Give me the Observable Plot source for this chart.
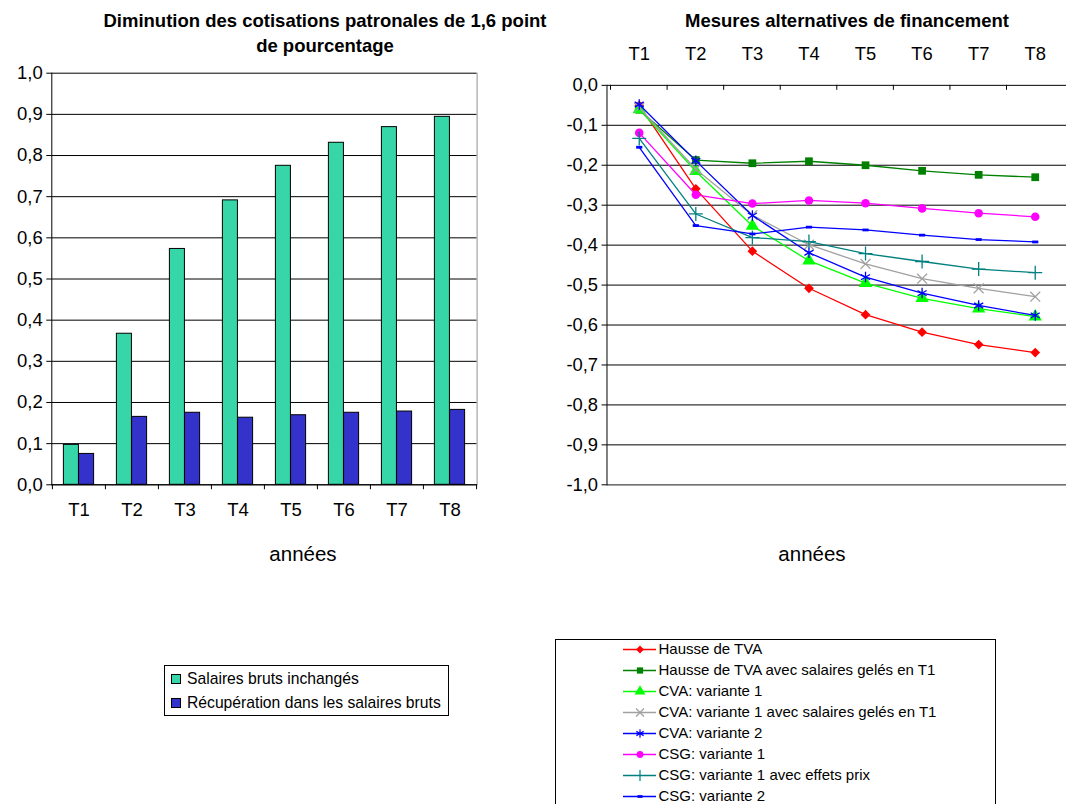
<!DOCTYPE html>
<html><head><meta charset="utf-8">
<script src="https://cdn.jsdelivr.net/npm/d3@7"></script>
<script src="https://cdn.jsdelivr.net/npm/@observablehq/plot@0.6"></script>
<style>
html,body{margin:0;padding:0;background:#fff;}
body{width:1066px;height:804px;overflow:hidden;position:relative;font-family:"Liberation Sans",Arial,sans-serif;color:#000;}
.abs{position:absolute;}
.title{font-weight:bold;font-size:18.5px;line-height:25px;text-align:center;white-space:nowrap;}
.axlab{font-size:20.5px;}
.lg{font-size:15.7px;}
.sw{display:inline-block;width:8px;height:8px;border:1px solid #000;vertical-align:middle;margin-right:6px;position:relative;top:-1px;}
</style></head><body>
<script>
// ---------- data ----------
const periods = ["T1","T2","T3","T4","T5","T6","T7","T8"];
const barSeries = ["Salaires bruts inchangés","Récupération dans les salaires bruts"];
const salairesInchanges = [0.097,0.367,0.573,0.691,0.775,0.831,0.869,0.894];
const recuperation = [0.075,0.165,0.175,0.163,0.169,0.175,0.178,0.182];

const lineSeries = [
  "Hausse de TVA",
  "Hausse de TVA avec salaires gelés en T1",
  "CVA: variante 1",
  "CVA: variante 1 avec salaires gelés en T1",
  "CVA: variante 2",
  "CSG: variante 1",
  "CSG: variante 1 avec effets prix",
  "CSG: variante 2"
];
const hausseTVA      = [-0.050,-0.259,-0.415,-0.508,-0.574,-0.618,-0.649,-0.669];
const hausseTVAGeles = [-0.061,-0.187,-0.195,-0.190,-0.200,-0.214,-0.224,-0.230];
const cva1           = [-0.060,-0.215,-0.352,-0.439,-0.495,-0.533,-0.559,-0.579];
const cva1Geles      = [-0.056,-0.210,-0.325,-0.399,-0.447,-0.484,-0.508,-0.529];
const cva2           = [-0.048,-0.189,-0.326,-0.419,-0.480,-0.520,-0.551,-0.576];
const csg1           = [-0.119,-0.274,-0.296,-0.288,-0.295,-0.308,-0.320,-0.329];
const csg1Prix       = [-0.133,-0.322,-0.381,-0.391,-0.421,-0.441,-0.460,-0.469];
const csg2           = [-0.155,-0.351,-0.372,-0.355,-0.362,-0.375,-0.386,-0.392];

const leftTicks = [0,0.1,0.2,0.3,0.4,0.5,0.6,0.7,0.8,0.9,1.0];
const rightTicks = [0,-0.1,-0.2,-0.3,-0.4,-0.5,-0.6,-0.7,-0.8,-0.9,-1.0];

// ---------- styles ----------
const barColors = ["#36D6A9","#3333CC"];
const lineColors = ["#FF0000","#008000","#00FF00","#A0A0A0","#0000FF","#FF00FF","#008080","#0000FF"];
const dashSymbol = {draw(ctx, size){ const w = Math.sqrt(size)*0.55; ctx.rect(-w,-1.4,2*w,2.8); }};
const markerStyles = [
  {symbol:"square", r:3.9, rotate:45, fill:true},
  {symbol:"square", r:4.4, fill:true},
  {symbol:"triangle", r:5.0, fill:true},
  {symbol:"times", r:4.6, fill:false},
  {symbol:"asterisk", r:5.0, fill:false},
  {symbol:"circle", r:4.3, fill:true},
  {symbol:"plus", r:4.6, fill:false},
  {symbol:dashSymbol, r:3.2, fill:true}
];
const fmt = d => d.toFixed(1).replace(".", ",");
const FONT = '"Liberation Sans", Arial, sans-serif';
const TICKFONT = 18.5;

const seriesValues = [hausseTVA,hausseTVAGeles,cva1,cva1Geles,cva2,csg1,csg1Prix,csg2];
const lineData = lineSeries.flatMap((s,i)=>periods.map((p,j)=>({series:s, idx:i, period:p, value:seriesValues[i][j]})));
const barData = periods.flatMap((p,j)=>[
  {series:barSeries[0], period:p, value:salairesInchanges[j]},
  {series:barSeries[1], period:p, value:recuperation[j]}
]);

function add(el, css){ const d=document.createElement("div"); d.className="abs"; Object.assign(d.style, css); d.appendChild(el); document.body.appendChild(d); return d; }
function addHTML(html, cls, css){ const d=document.createElement("div"); d.className="abs "+(cls||""); d.innerHTML=html; Object.assign(d.style, css); document.body.appendChild(d); return d; }

// ---------- left chart ----------
{
  const W=540, H=575, mL=51.3, mR=W-476.6, mT=72.7, mB=H-484.3;
  const band=(W-mL-mR)/periods.length, bw=band/3.5, gap=(band-2*bw)/2;
  const chart = Plot.plot({
    width:W, height:H, marginLeft:mL, marginRight:mR, marginTop:mT, marginBottom:mB,
    style:{fontFamily:FONT, fontSize:TICKFONT+"px", color:"#000", background:"transparent", overflow:"visible"},
    x:{type:"band", domain:periods, padding:0, axis:null},
    y:{domain:[0,1], axis:null},
    marks:[
      Plot.gridY(leftTicks, {stroke:"#000", strokeOpacity:1, strokeWidth:1}),
      Plot.frame({anchor:"right", stroke:"#909090"}),
      Plot.barY(barData.filter(d=>d.series===barSeries[0]), {x:"period", y:"value", fill:barColors[0], stroke:"#000", strokeWidth:1, insetLeft:gap, insetRight:band-gap-bw}),
      Plot.barY(barData.filter(d=>d.series===barSeries[1]), {x:"period", y:"value", fill:barColors[1], stroke:"#000", strokeWidth:1, insetLeft:gap+bw, insetRight:gap}),
      Plot.ruleY([0], {stroke:"#000"}),
      Plot.frame({anchor:"left", stroke:"#000"}),
      Plot.axisY(leftTicks, {tickFormat:fmt, tickSize:5, tickPadding:4, fontSize:TICKFONT, strokeOpacity:1, label:null}),
      Plot.ruleX(periods, {x:d=>d, y1:0, y2:-0.012, dx:-band/2, stroke:"#000"}),
      Plot.ruleX([periods[periods.length-1]], {x:d=>d, y1:0, y2:-0.012, dx:band/2, stroke:"#000"}),
      Plot.text(periods, {x:d=>d, text:d=>d, frameAnchor:"bottom", dy:25, lineAnchor:"middle", fontSize:TICKFONT})
    ]
  });
  add(chart, {left:"0px", top:"0px"});
}

// ---------- right chart ----------
{
  const W=530, H=577, mL=67, mR=0, mT=85.5, mB=H-488;
  const band=(W-mL-mR)/periods.length;
  const marks = [
    Plot.gridY(rightTicks, {stroke:"#000", strokeOpacity:1, strokeWidth:1}),
    Plot.ruleY([-1], {stroke:"#808080"}),
    Plot.frame({anchor:"left", stroke:"#000"}),
    Plot.axisY(rightTicks, {tickFormat:fmt, tickSize:5, tickPadding:4, fontSize:TICKFONT, strokeOpacity:1, label:null}),
    Plot.ruleX(periods, {x:d=>d, y1:0, y2:-0.0125, dx:-band/2, stroke:"#000"}),
    Plot.text(periods, {x:d=>d, text:d=>d, frameAnchor:"top", dy:-31.5, lineAnchor:"middle", fontSize:TICKFONT})
  ];
  lineSeries.forEach((s,i)=>{
    const data = lineData.filter(d=>d.idx===i);
    const m = markerStyles[i];
    marks.push(Plot.line(data, {x:"period", y:"value", stroke:lineColors[i], strokeWidth:1.3}));
    marks.push(Plot.dot(data, {x:"period", y:"value", symbol:()=>m.symbol, r:m.r, rotate:m.rotate||0,
      fill: m.fill ? lineColors[i] : "none", stroke: m.fill ? "none" : lineColors[i], strokeWidth:1.3}));
  });
  const chart = Plot.plot({
    width:W, height:H, marginLeft:mL, marginRight:mR, marginTop:mT, marginBottom:mB,
    style:{fontFamily:FONT, fontSize:TICKFONT+"px", color:"#000", background:"transparent", overflow:"visible"},
    x:{type:"band", domain:periods, padding:0, axis:null},
    y:{domain:[-1,0], axis:null},
    symbol:{type:"identity"},
    marks
  });
  add(chart, {left:"540px", top:"0px"});
}

// ---------- titles & axis labels ----------
addHTML("Diminution des cotisations patronales de 1,6 point<br>de pourcentage", "title", {left:"72px", top:"8px", width:"506px"});
addHTML("Mesures alternatives de financement", "title", {left:"647px", top:"8px", width:"400px"});
addHTML("années", "axlab", {left:"253px", top:"542px", width:"100px", textAlign:"center"});
addHTML("années", "axlab", {left:"762px", top:"542px", width:"100px", textAlign:"center"});

// ---------- left legend ----------
addHTML(
  barSeries.map((s,i)=>`<div style="height:24px;line-height:24px;white-space:nowrap"><span class="sw" style="background:${barColors[i]}"></span>${s}</div>`).join(""),
  "lg", {left:"164px", top:"665px", width:"277px", height:"48px", border:"1px solid #000", padding:"1px 0 0 6px"}
);

// ---------- right legend ----------
{
  const W=439, H=175;
  const lg = Plot.plot({
    width:W, height:H, margin:0,
    style:{fontFamily:FONT, fontSize:"15px", color:"#000", background:"transparent", overflow:"visible"},
    x:{domain:[0,W], range:[0,W], axis:null},
    y:{type:"point", domain:lineSeries, range:[9,156], padding:0, axis:null},
    marks:[
      ...lineSeries.map((s,i)=>Plot.ruleY([s], {y:d=>d, x1:67, x2:100, stroke:lineColors[i], strokeWidth:1.5})),
      ...lineSeries.map((s,i)=>{ const m=markerStyles[i]; return Plot.dot([s], {x:()=>83.5, y:d=>d, symbol:()=>m.symbol, r:m.r*0.8, rotate:m.rotate||0,
        fill: m.fill ? lineColors[i] : "none", stroke: m.fill ? "none" : lineColors[i], strokeWidth:1.2}); }),
      Plot.text(lineSeries, {x:()=>102, y:d=>d, text:d=>d, textAnchor:"start", lineAnchor:"middle", fontSize:15})
    ],
    symbol:{type:"identity"}
  });
  add(lg, {left:"555px", top:"639px", width:W+"px", height:"200px", border:"1px solid #000"});
}
</script>
</body></html>
